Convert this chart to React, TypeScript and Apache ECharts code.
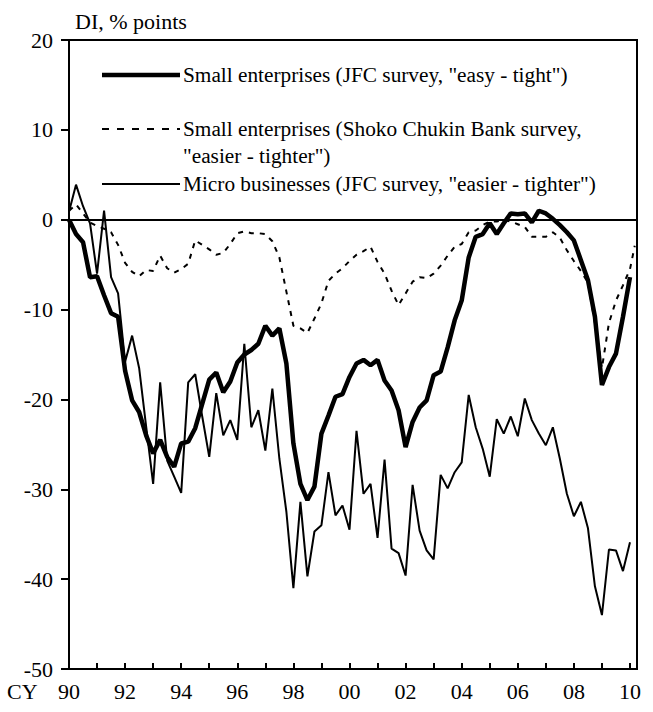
import React, { useEffect, useRef } from "react";
import * as echarts from "echarts";

// Quarterly observations, 1990 Q1 .. 2010 Q1 (81 quarters)
const startYear = 1990;
const quarterStep = 0.25;

// Small enterprises (JFC survey, "easy - tight")
const smallJFC = [
  0.0, -1.6, -2.5, -6.4, -6.3, -8.4, -10.4, -10.8, -16.8, -20.1,
  -21.4, -24.0, -26.0, -24.5, -26.4, -27.5, -24.9, -24.7, -23.2, -20.5,
  -17.8, -17.0, -19.2, -18.0, -15.9, -15.0, -14.5, -13.8, -11.8, -12.9,
  -12.1, -16.0, -24.9, -29.4, -31.2, -29.7, -23.8, -21.8, -19.7, -19.4,
  -17.5, -16.0, -15.6, -16.2, -15.6, -17.9, -19.0, -21.2, -25.3, -22.5,
  -20.9, -20.1, -17.3, -16.9, -14.2, -11.2, -9.0, -4.2, -1.9, -1.6,
  -0.4, -1.6, -0.4, 0.7, 0.6, 0.7, -0.3, 1.0, 0.7, 0.1,
  -0.6, -1.4, -2.3, -4.5, -6.7, -10.8, -18.4, -16.4, -14.9, -10.8,
  -6.4,
];

// Small enterprises (Shoko Chukin Bank survey, "easier - tighter")
const shokoChukin = [
  1.0, 1.7, 0.7, -0.3, -0.7, -1.0, -1.4, -2.8, -4.8, -5.8,
  -6.3, -5.6, -5.7, -4.0, -5.4, -5.9, -5.5, -4.9, -2.3, -2.8,
  -3.3, -3.9, -3.7, -2.7, -1.5, -1.3, -1.5, -1.5, -1.6, -2.4,
  -4.2, -8.0, -11.8, -12.1, -12.6, -11.0, -9.3, -6.8, -6.0, -5.4,
  -4.6, -3.9, -3.5, -3.0, -4.7, -6.0, -7.9, -9.5, -8.2, -6.9,
  -6.4, -6.5, -6.0, -5.1, -4.0, -3.0, -2.7, -1.4, -1.2, -0.6,
  -0.2, -0.2, 0.0, -0.2, -0.5, -0.8, -1.9, -1.9, -1.9, -1.4,
  -2.0, -3.4, -4.6, -5.7, -7.0, -11.5, -16.5, -11.5, -9.0, -7.3,
  -5.5,
];
// latest monthly reading of the Shoko Chukin survey (early 2010)
const shokoLatestDate = 2010.17;
const shokoLatestValue = -2.9;

// Micro businesses (JFC survey, "easier - tighter")
const microJFC = [
  0.9, 3.9, 1.5, -0.4, -6.0, 1.0, -6.4, -8.2, -15.8, -12.9,
  -16.5, -23.0, -29.4, -18.1, -26.8, -28.6, -30.4, -18.1, -17.2, -21.9,
  -26.4, -19.3, -24.0, -22.3, -24.5, -13.8, -23.1, -21.2, -25.7, -18.8,
  -26.6, -32.5, -41.0, -31.4, -39.7, -34.7, -34.0, -28.1, -32.9, -31.8,
  -34.5, -23.5, -30.5, -29.4, -35.4, -26.7, -36.6, -37.1, -39.6, -29.5,
  -34.6, -36.8, -37.8, -28.4, -29.9, -28.1, -27.0, -19.5, -23.1, -25.5,
  -28.6, -22.2, -23.8, -21.9, -24.1, -19.9, -22.3, -23.8, -25.1, -23.1,
  -26.6, -30.5, -33.0, -31.4, -34.3, -40.8, -44.0, -36.7, -36.8, -39.1,
  -35.9,
];

const legendLabels = [
  'Small enterprises (JFC survey, "easy - tight")',
  'Small enterprises (Shoko Chukin Bank survey,',
  '"easier - tighter")',
  'Micro businesses (JFC survey, "easier - tighter")',
];

const yMin = -50;
const yMax = 20;
const yStep = 10;
const xMin = 1990;
const xMax = 2010.25;

const FONT = '"Liberation Serif", "Times New Roman", Times, serif';
const FS = 22;
const LEGEND_FS = 21.3;

const toPairs = (arr: number[]) =>
  arr.map((v, i) => [startYear + i * quarterStep, v]);

export default function App() {
  const ref = useRef<HTMLDivElement>(null);
  useEffect(() => {
    if (!ref.current) return;
    const chart = echarts.init(ref.current, undefined, { renderer: "svg" });
    const textEl = (text: string, x: number, y: number, size: number) => ({
      type: "text",
      x,
      y,
      style: {
        text,
        font: `${size}px ${FONT}`,
        fill: "#000",
        verticalAlign: "middle",
        align: "left",
      },
    });
    chart.setOption({
      animation: false,
      backgroundColor: "#fff",
      grid: {
        left: 69,
        right: 16,
        top: 40,
        bottom: 43,
        show: true,
        borderColor: "#000",
        borderWidth: 2,
        backgroundColor: "transparent",
      },
      xAxis: {
        type: "value",
        min: xMin,
        max: xMax,
        interval: 1,
        splitLine: { show: false },
        axisLine: { show: true, onZero: false, lineStyle: { color: "#000", width: 2 } },
        axisTick: { show: true, inside: true, length: 6, lineStyle: { color: "#000", width: 2 } },
        axisLabel: {
          color: "#000",
          fontFamily: FONT,
          fontSize: FS,
          margin: 11,
          showMaxLabel: false,
          formatter: (v: number) =>
            Number.isInteger(v) && v % 2 === 0 ? String(v % 100).padStart(2, "0") : "",
        },
      },
      yAxis: {
        type: "value",
        min: yMin,
        max: yMax,
        interval: yStep,
        splitLine: { show: false },
        axisLine: { show: true, onZero: false, lineStyle: { color: "#000", width: 2 } },
        axisTick: { show: true, inside: false, length: 8, lineStyle: { color: "#000", width: 2 } },
        axisLabel: { color: "#000", fontFamily: FONT, fontSize: FS, margin: 16 },
      },
      series: [
        {
          name: legendLabels[2],
          type: "line",
          data: [...toPairs(shokoChukin), [shokoLatestDate, shokoLatestValue]],
          symbol: "none",
          lineStyle: { color: "#000", width: 2, type: [5, 6] },
          z: 2,
        },
        {
          name: legendLabels[3],
          type: "line",
          data: toPairs(microJFC),
          symbol: "none",
          lineStyle: { color: "#000", width: 2 },
          z: 3,
        },
        {
          name: legendLabels[0],
          type: "line",
          data: toPairs(smallJFC),
          symbol: "none",
          lineStyle: { color: "#000", width: 4.5 },
          z: 4,
          markLine: {
            silent: true,
            symbol: ["none", "none"],
            label: { show: false },
            lineStyle: { color: "#000", width: 2, type: "solid" },
            data: [{ yAxis: 0 }],
          },
        },
      ],
      graphic: [
        textEl("DI, % points", 75, 21, FS),
        textEl("CY", 7, 691, FS),
        {
          type: "line",
          shape: { x1: 102, y1: 75, x2: 180, y2: 75 },
          style: { stroke: "#000", lineWidth: 4.5 },
        },
        textEl(legendLabels[0], 183, 75, LEGEND_FS),
        {
          type: "line",
          shape: { x1: 102, y1: 129, x2: 180, y2: 129 },
          style: { stroke: "#000", lineWidth: 2, lineDash: [7, 8] },
        },
        textEl(legendLabels[1], 183, 129, LEGEND_FS),
        textEl(legendLabels[2], 183, 156, LEGEND_FS),
        {
          type: "line",
          shape: { x1: 102, y1: 184, x2: 180, y2: 184 },
          style: { stroke: "#000", lineWidth: 2 },
        },
        textEl(legendLabels[3], 183, 184, LEGEND_FS),
      ],
    });
    return () => chart.dispose();
  }, []);
  return (
    <div
      ref={ref}
      style={{ position: "absolute", left: 0, top: 0, width: 653, height: 712 }}
    />
  );
}
